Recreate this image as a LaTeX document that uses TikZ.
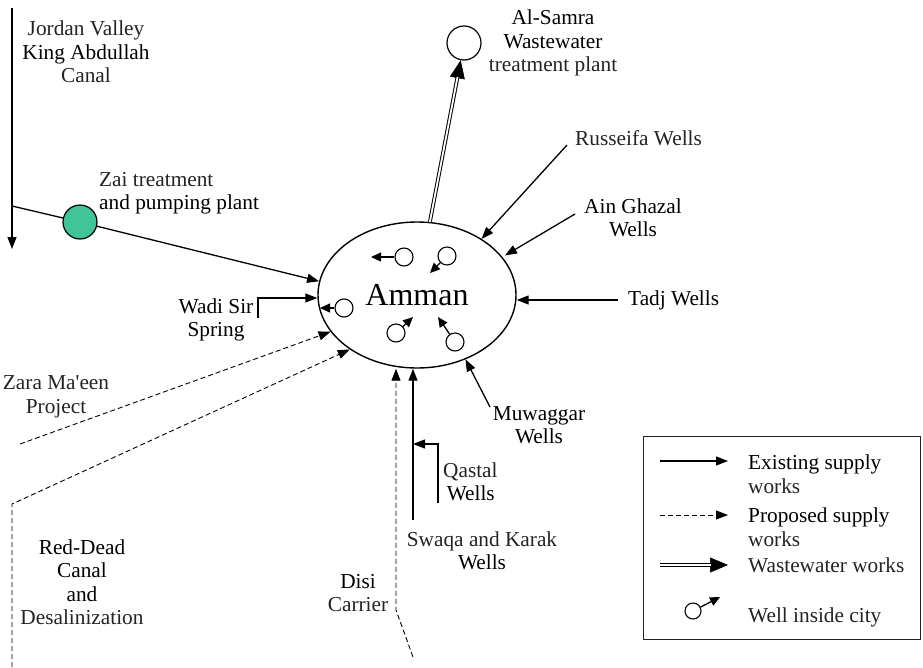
\documentclass[tikz,border=0pt]{standalone}
\usepackage{fontspec}
\setmainfont{Liberation Serif}
\usetikzlibrary{arrows.meta,shapes.geometric,calc}
\definecolor{zaigreen}{RGB}{64,196,152}
\definecolor{tg}{RGB}{35,35,35}
\begin{document}
\begin{tikzpicture}[x=1pt,y=-1pt,
 lbl/.style={font=\fontsize{21.3}{23.5}\selectfont, align=center, inner sep=0pt, text=tg},
 arr/.style={-{Triangle[length=12pt,width=9pt]}, line width=1.3pt},
 darr/.style={-{Triangle[length=12pt,width=9pt]}, line width=0.9pt, dash pattern=on 5pt off 3pt},
 ln/.style={line width=1.3pt},
 well/.style={circle, draw, line width=1.1pt, minimum size=18pt, inner sep=0pt, fill=white},
 warr/.style={-{Triangle[length=10pt,width=9pt]}, line width=1.3pt},
 bigtip/.style={-{Triangle[length=18pt,width=15pt]}, line width=0.5pt},
 dbl/.style={double, double distance=1.8pt, line width=1pt}]
\useasboundingbox (0,0) rectangle (923,667);

% city
\node[ellipse, draw, line width=1.4pt, minimum width=198pt, minimum height=146pt, inner sep=0pt,
      font=\fontsize{32}{32}\selectfont] (amman) at (417,295) {Amman};

% wells inside the city
\node[well] (w1) at (404,257) {};
\node[well] (w2) at (447,256) {};
\node[well] (w3) at (344,308) {};
\node[well] (w4) at (396,333) {};
\node[well] (w5) at (455,342) {};
\coordinate (t1) at (371,257);
\coordinate (t2) at (430,273);
\coordinate (t3) at (320,308);
\coordinate (t4) at (413,317);
\coordinate (t5) at (438,317);
\draw[warr] (w1) -- (t1);
\draw[warr] (w2) -- (t2);
\draw[warr] (w3) -- (t3);
\draw[warr] (w4) -- (t4);
\draw[warr] (w5) -- (t5);

% Jordan Valley / King Abdullah canal
\coordinate (jvtop) at (12,8);
\coordinate (jvbot) at (12,249);
\draw[arr] (jvtop) -- (jvbot);
\node[lbl] (jv) at (86,52) {Jordan Valley\\\textcolor{black}{King Abdullah}\\Canal};

% Zai
\coordinate (zstart) at (12,206);
\node[circle, draw, line width=1.2pt, fill=zaigreen, minimum size=34pt, inner sep=0pt] (zai) at (80,222) {};
\draw[ln] (zstart) -- (zai);
\draw[arr] (zai) -- (amman.172);
\node[lbl, anchor=west, align=left] (zait) at (99,193) {Zai treatment\\\textcolor{black}{and pumping plant}};

% Wadi Sir
\coordinate (wsb) at (258,318);
\coordinate (wsc) at (258,298);
\draw[arr] (wsb) -- (wsc) -- (wsc -| amman.west);
\node[lbl, text=black] (wadi) at (216,320) {Wadi Sir\\Spring};

% Al-Samra
\node[circle, draw, line width=1.2pt, minimum size=34pt, inner sep=0pt] (samc) at (464,43) {};
\draw[bigtip] (amman.80) -- (samc);
\draw[dbl, shorten >=17pt] (amman.80) -- (samc);
\node[lbl] (samt) at (553,43) {\textcolor{black}{Al-Samra}\\\textcolor{black}{Wastewater}\\treatment plant};

% Russeifa
\coordinate (rs) at (567,145);
\draw[arr] (rs) -- (amman.41);
\node[lbl, anchor=west] (russ) at (575,138) {Russeifa Wells};

% Ain Ghazal
\coordinate (ag) at (575,214);
\draw[arr, shorten >=3pt] (ag) -- (amman.24);
\node[lbl, text=black] (ain) at (633,218) {Ain Ghazal\\Wells};

% Tadj
\coordinate (tj) at (618,300);
\draw[arr] (tj) -- (tj -| amman.east);
\node[lbl, anchor=west, text=black] (tadj) at (628,300) {Tadj Wells};

% Muwaggar
\coordinate (mw) at (490,407);
\draw[arr] (mw) -- (amman.307);
\node[lbl, text=black] (muw) at (539,425) {Muwaggar\\Wells};

% Swaqa and Karak / Qastal
\coordinate (swb) at (413,520);
\draw[arr] (swb) -- (swb |- amman.south);
\coordinate (qb) at (438,503);
\coordinate (qc) at (438,444);
\draw[arr] (qb) -- (qc) -- (qc -| swb);
\node[lbl, anchor=west, align=left] (qastal) at (443,482) {Qastal\\\,\textcolor{black}{Wells}};
\node[lbl] (swaqa) at (482,551) {Swaqa and Karak\\\textcolor{black}{Wells}};

% Disi
\coordinate (db) at (413,657);
\coordinate (dbend) at (396,610);
\draw[darr] (db) -- (dbend) -- (dbend |- amman.south);
\node[lbl] (disi) at (358,593) {\textcolor{black}{Disi}\\Carrier};

% Zara Ma'een
\coordinate (zm) at (20,444);
\draw[darr] (zm) -- (amman.203);
\node[lbl] (zara) at (56,397) {Zara Ma\textquotesingle een\\Project};

% Red-Dead
\coordinate (rdb) at (12,667);
\coordinate (rdc) at (12,504);
\draw[darr] (rdb) -- (rdc) -- (amman.219);
\node[lbl] (red) at (82,582) {\textcolor{black}{Red-Dead}\\\textcolor{black}{Canal}\\\textcolor{black}{and}\\Desalinization};

% legend
\node[draw, line width=1pt, draw=tg, minimum width=277pt, minimum height=203pt, inner sep=0pt, anchor=north west] (leg) at (643,436) {};
\coordinate (l1a) at (660,461); \coordinate (l1b) at (728,461);
\draw[arr, line width=1.2pt] (l1a) -- (l1b);
\node[lbl, anchor=west, align=left] (lt1) at (748,474) {\textcolor{black}{Existing supply}\\works};
\coordinate (l2a) at (660,515); \coordinate (l2b) at (728,515);
\draw[darr] (l2a) -- (l2b);
\node[lbl, anchor=west, align=left] (lt2) at (748,527) {\textcolor{black}{Proposed supply}\\works};
\coordinate (l3a) at (660,565); \coordinate (l3b) at (728,565);
\draw[bigtip] (l3a) -- (l3b);
\draw[dbl, shorten >=17pt] (l3a) -- (l3b);
\node[lbl, anchor=west] (lt3) at (748,565) {Wastewater works};
\node[well, minimum size=16pt] (lw) at (693,611) {};
\coordinate (lwt) at (720,597);
\draw[warr] (lw) -- (lwt);
\node[lbl, anchor=west] (lt4) at (748,617) {Well inside city};
\end{tikzpicture}
\end{document}
